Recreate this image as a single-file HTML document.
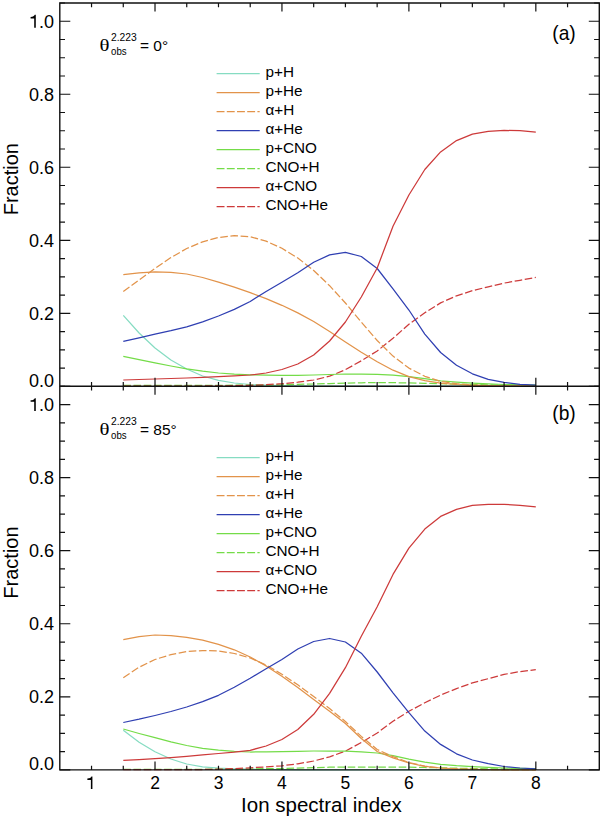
<!DOCTYPE html><html><head><meta charset="utf-8"><style>html,body{margin:0;padding:0;background:#fff;}svg{display:block;}text{font-family:"Liberation Sans",sans-serif;fill:#000;}</style></head><body>
<svg width="600" height="817" viewBox="0 0 600 817">
<rect width="600" height="817" fill="#fff"/>
<path d="M123.3,315.4 L139.1,333.0 L155.0,348.0 L170.9,360.0 L186.7,369.0 L202.6,376.0 L218.5,380.4 L234.3,383.0 L250.2,384.5 L266.1,385.2 L281.9,385.6 L297.8,385.8 L313.7,386.0 L329.6,386.0 L345.4,386.0 L361.3,386.0 L377.2,386.0 L393.0,386.0 L408.9,386.0 L424.8,386.0 L440.6,386.0 L456.5,386.0 L472.4,386.0 L488.2,386.0 L504.1,386.0 L520.0,386.0 L535.8,386.0" fill="none" stroke="#86dcc2" stroke-width="1.25" stroke-linejoin="round"/>
<path d="M123.3,385.4 L139.1,385.4 L155.0,385.4 L170.9,385.4 L186.7,385.4 L202.6,385.3 L218.5,385.3 L234.3,385.2 L250.2,385.1 L266.1,385.0 L281.9,384.8 L297.8,384.4 L313.7,384.0 L329.6,383.6 L345.4,383.2 L361.3,382.8 L377.2,382.6 L393.0,382.7 L408.9,382.9 L424.8,383.3 L440.6,383.7 L456.5,384.2 L472.4,384.6 L488.2,384.9 L504.1,385.1 L520.0,385.3 L535.8,385.4" fill="none" stroke="#74dc48" stroke-width="1.25" stroke-linejoin="round" stroke-dasharray="7.6 2.6"/>
<path d="M123.3,386.0 L139.1,386.0 L155.0,386.0 L170.9,386.0 L186.7,386.0 L202.6,386.0 L218.5,385.9 L234.3,385.7 L250.2,385.3 L266.1,384.7 L281.9,383.7 L297.8,382.2 L313.7,380.0 L329.6,376.2 L345.4,369.7 L361.3,360.8 L377.2,351.0 L393.0,338.3 L408.9,324.2 L424.8,312.8 L440.6,302.9 L456.5,295.8 L472.4,290.7 L488.2,286.8 L504.1,283.1 L520.0,280.3 L535.8,277.4" fill="none" stroke="#cd3a3a" stroke-width="1.25" stroke-linejoin="round" stroke-dasharray="7.6 2.6"/>
<path d="M123.3,356.4 L139.1,359.7 L155.0,362.9 L170.9,366.0 L186.7,368.8 L202.6,371.2 L218.5,373.0 L234.3,374.1 L250.2,374.8 L266.1,375.2 L281.9,375.4 L297.8,375.3 L313.7,375.0 L329.6,374.5 L345.4,374.0 L361.3,374.0 L377.2,374.3 L393.0,375.2 L408.9,376.6 L424.8,378.7 L440.6,380.8 L456.5,382.1 L472.4,383.1 L488.2,383.9 L504.1,384.5 L520.0,384.8 L535.8,385.0" fill="none" stroke="#74dc48" stroke-width="1.25" stroke-linejoin="round"/>
<path d="M123.3,274.7 L139.1,272.8 L155.0,271.8 L170.9,272.3 L186.7,274.0 L202.6,277.5 L218.5,282.2 L234.3,287.2 L250.2,292.7 L266.1,298.7 L281.9,305.3 L297.8,312.9 L313.7,321.5 L329.6,331.5 L345.4,342.0 L361.3,352.3 L377.2,361.8 L393.0,370.2 L408.9,376.6 L424.8,380.6 L440.6,383.1 L456.5,384.5 L472.4,385.4 L488.2,385.7 L504.1,385.9 L520.0,386.0 L535.8,386.0" fill="none" stroke="#e2934a" stroke-width="1.25" stroke-linejoin="round"/>
<path d="M123.3,291.5 L139.1,280.0 L155.0,268.5 L170.9,257.6 L186.7,248.5 L202.6,241.8 L218.5,237.5 L234.3,235.7 L250.2,236.7 L266.1,241.1 L281.9,248.3 L297.8,258.0 L313.7,270.5 L329.6,285.7 L345.4,303.0 L361.3,322.1 L377.2,340.5 L393.0,356.1 L408.9,368.1 L424.8,376.3 L440.6,381.4 L456.5,383.7 L472.4,385.0 L488.2,385.5 L504.1,385.8 L520.0,385.9 L535.8,386.0" fill="none" stroke="#e2934a" stroke-width="1.25" stroke-linejoin="round" stroke-dasharray="7.6 2.6"/>
<path d="M123.3,341.3 L139.1,337.8 L155.0,334.2 L170.9,330.7 L186.7,326.8 L202.6,321.9 L218.5,316.0 L234.3,309.4 L250.2,301.5 L266.1,291.5 L281.9,282.2 L297.8,272.8 L313.7,262.3 L329.6,254.9 L345.4,252.3 L361.3,256.5 L377.2,268.5 L393.0,288.8 L408.9,310.0 L424.8,334.1 L440.6,352.5 L456.5,365.3 L472.4,373.8 L488.2,379.4 L504.1,382.3 L520.0,384.3 L535.8,385.1" fill="none" stroke="#2f3fb2" stroke-width="1.25" stroke-linejoin="round"/>
<path d="M123.3,380.0 L139.1,379.5 L155.0,379.0 L170.9,378.5 L186.7,378.0 L202.6,377.4 L218.5,376.7 L234.3,375.9 L250.2,375.0 L266.1,373.0 L281.9,369.5 L297.8,364.0 L313.7,355.0 L329.6,341.0 L345.4,322.0 L361.3,297.0 L377.2,268.0 L393.0,226.2 L408.9,195.0 L424.8,169.5 L440.6,151.9 L456.5,140.6 L472.4,134.1 L488.2,131.3 L504.1,130.4 L520.0,130.7 L535.8,132.1" fill="none" stroke="#cd3a3a" stroke-width="1.25" stroke-linejoin="round"/>
<path d="M59.8,386.30 h10.5 M599.3,386.30 h-10.5 M59.8,368.05 h5.2 M599.3,368.05 h-5.2 M59.8,349.80 h5.2 M599.3,349.80 h-5.2 M59.8,331.54 h5.2 M599.3,331.54 h-5.2 M59.8,313.29 h10.5 M599.3,313.29 h-10.5 M59.8,295.04 h5.2 M599.3,295.04 h-5.2 M59.8,276.79 h5.2 M599.3,276.79 h-5.2 M59.8,258.53 h5.2 M599.3,258.53 h-5.2 M59.8,240.28 h10.5 M599.3,240.28 h-10.5 M59.8,222.03 h5.2 M599.3,222.03 h-5.2 M59.8,203.78 h5.2 M599.3,203.78 h-5.2 M59.8,185.52 h5.2 M599.3,185.52 h-5.2 M59.8,167.27 h10.5 M599.3,167.27 h-10.5 M59.8,149.02 h5.2 M599.3,149.02 h-5.2 M59.8,130.77 h5.2 M599.3,130.77 h-5.2 M59.8,112.51 h5.2 M599.3,112.51 h-5.2 M59.8,94.26 h10.5 M599.3,94.26 h-10.5 M59.8,76.01 h5.2 M599.3,76.01 h-5.2 M59.8,57.76 h5.2 M599.3,57.76 h-5.2 M59.8,39.50 h5.2 M599.3,39.50 h-5.2 M59.8,21.25 h10.5 M599.3,21.25 h-10.5 M59.8,3.00 h5.2 M599.3,3.00 h-5.2 M91.54,386.3 v-4.2 M91.54,3.0 v4.2 M123.27,386.3 v-4.2 M123.27,3.0 v4.2 M155.01,386.3 v-8.5 M155.01,3.0 v8.5 M186.74,386.3 v-4.2 M186.74,3.0 v4.2 M218.48,386.3 v-4.2 M218.48,3.0 v4.2 M250.21,386.3 v-4.2 M250.21,3.0 v4.2 M281.95,386.3 v-8.5 M281.95,3.0 v8.5 M313.68,386.3 v-4.2 M313.68,3.0 v4.2 M345.42,386.3 v-4.2 M345.42,3.0 v4.2 M377.15,386.3 v-4.2 M377.15,3.0 v4.2 M408.89,386.3 v-8.5 M408.89,3.0 v8.5 M440.62,386.3 v-4.2 M440.62,3.0 v4.2 M472.36,386.3 v-4.2 M472.36,3.0 v4.2 M504.09,386.3 v-4.2 M504.09,3.0 v4.2 M535.83,386.3 v-8.5 M535.83,3.0 v8.5 M567.56,386.3 v-4.2 M567.56,3.0 v4.2" fill="none" stroke="#111" stroke-width="1.2"/>
<text x="54" y="386.8" font-size="18" text-anchor="end">0.0</text>
<text x="54" y="319.7" font-size="18" text-anchor="end">0.2</text>
<text x="54" y="246.7" font-size="18" text-anchor="end">0.4</text>
<text x="54" y="173.7" font-size="18" text-anchor="end">0.6</text>
<text x="54" y="100.7" font-size="18" text-anchor="end">0.8</text>
<text x="54" y="27.7" font-size="18" text-anchor="end">.0</text>
<path d="M35.79,27.65 V14.87 H34.78 C34.37,16.13 33.02,16.85 30.59,16.94 V18.47 H34.21 V27.65 Z" fill="#000"/>
<text transform="translate(18.2,179.2) rotate(-90)" font-size="20" text-anchor="middle">Fraction</text>
<text transform="translate(99.6,50.8) scale(1.3,1)" font-size="16" style="font-family:'Liberation Serif',serif">&#952;</text>
<text x="111.0" y="40.9" font-size="10" textLength="25.8" lengthAdjust="spacingAndGlyphs">2.223</text>
<text x="111.0" y="55.0" font-size="10.2" textLength="15.6" lengthAdjust="spacingAndGlyphs">obs</text>
<text x="140" y="50.8" font-size="15.5">= 0&#176;</text>
<text transform="translate(552.3,40.3) scale(1,1.07)" font-size="19.2">(a)</text>
<path d="M216.6,73.7 H259.7" stroke="#86dcc2" stroke-width="1.25"/>
<text x="265.5" y="76.9" font-size="15.3">p+H</text>
<path d="M216.6,92.7 H259.7" stroke="#e2934a" stroke-width="1.25"/>
<text x="265.5" y="95.9" font-size="15.3">p+He</text>
<path d="M216.6,111.7 H259.7" stroke="#e2934a" stroke-width="1.25" stroke-dasharray="7.9 2.3"/>
<text x="265.5" y="114.9" font-size="15.3">&#945;+H</text>
<path d="M216.6,130.7 H259.7" stroke="#2f3fb2" stroke-width="1.25"/>
<text x="265.5" y="133.9" font-size="15.3">&#945;+He</text>
<path d="M216.6,149.7 H259.7" stroke="#74dc48" stroke-width="1.25"/>
<text x="265.5" y="152.9" font-size="15.3">p+CNO</text>
<path d="M216.6,168.7 H259.7" stroke="#74dc48" stroke-width="1.25" stroke-dasharray="7.9 2.3"/>
<text x="265.5" y="171.9" font-size="15.3">CNO+H</text>
<path d="M216.6,187.7 H259.7" stroke="#cd3a3a" stroke-width="1.25"/>
<text x="265.5" y="190.9" font-size="15.3">&#945;+CNO</text>
<path d="M216.6,206.7 H259.7" stroke="#cd3a3a" stroke-width="1.25" stroke-dasharray="7.9 2.3"/>
<text x="265.5" y="209.9" font-size="15.3">CNO+He</text>
<path d="M123.3,730.2 L139.1,742.3 L155.0,751.7 L170.9,759.0 L186.7,764.0 L202.6,766.8 L218.5,768.2 L234.3,768.8 L250.2,769.2 L266.1,769.5 L281.9,769.7 L297.8,769.8 L313.7,769.9 L329.6,769.9 L345.4,769.9 L361.3,769.9 L377.2,769.9 L393.0,769.9 L408.9,769.9 L424.8,769.9 L440.6,769.9 L456.5,769.9 L472.4,769.9 L488.2,769.9 L504.1,769.9 L520.0,769.9 L535.8,769.9" fill="none" stroke="#86dcc2" stroke-width="1.25" stroke-linejoin="round"/>
<path d="M123.3,769.3 L139.1,769.3 L155.0,769.3 L170.9,769.3 L186.7,769.3 L202.6,769.3 L218.5,769.2 L234.3,769.1 L250.2,769.0 L266.1,768.7 L281.9,768.5 L297.8,768.1 L313.7,767.6 L329.6,767.2 L345.4,767.0 L361.3,767.0 L377.2,767.0 L393.0,767.1 L408.9,767.2 L424.8,767.5 L440.6,767.8 L456.5,768.2 L472.4,768.5 L488.2,768.8 L504.1,769.0 L520.0,769.2 L535.8,769.3" fill="none" stroke="#74dc48" stroke-width="1.25" stroke-linejoin="round" stroke-dasharray="7.6 2.6"/>
<path d="M123.3,769.6 L139.1,769.6 L155.0,769.6 L170.9,769.6 L186.7,769.6 L202.6,769.5 L218.5,769.2 L234.3,768.6 L250.2,767.8 L266.1,766.9 L281.9,765.8 L297.8,763.8 L313.7,761.0 L329.6,756.8 L345.4,751.2 L361.3,742.5 L377.2,733.0 L393.0,721.2 L408.9,711.3 L424.8,702.8 L440.6,695.1 L456.5,688.6 L472.4,682.9 L488.2,678.7 L504.1,674.4 L520.0,671.6 L535.8,669.6" fill="none" stroke="#cd3a3a" stroke-width="1.25" stroke-linejoin="round" stroke-dasharray="7.6 2.6"/>
<path d="M123.3,729.0 L139.1,733.5 L155.0,737.7 L170.9,741.9 L186.7,745.5 L202.6,748.3 L218.5,750.2 L234.3,751.4 L250.2,752.0 L266.1,751.9 L281.9,751.7 L297.8,751.3 L313.7,751.0 L329.6,751.0 L345.4,751.2 L361.3,751.8 L377.2,753.0 L393.0,755.7 L408.9,759.2 L424.8,762.2 L440.6,764.3 L456.5,765.7 L472.4,766.6 L488.2,767.4 L504.1,768.0 L520.0,768.4 L535.8,768.6" fill="none" stroke="#74dc48" stroke-width="1.25" stroke-linejoin="round"/>
<path d="M123.3,639.7 L139.1,636.6 L155.0,635.0 L170.9,635.6 L186.7,637.3 L202.6,640.2 L218.5,644.3 L234.3,649.8 L250.2,657.0 L266.1,665.9 L281.9,676.3 L297.8,687.6 L313.7,699.5 L329.6,711.2 L345.4,723.5 L361.3,738.5 L377.2,751.5 L393.0,757.8 L408.9,763.0 L424.8,766.3 L440.6,768.0 L456.5,768.9 L472.4,769.4 L488.2,769.7 L504.1,769.8 L520.0,769.9 L535.8,769.9" fill="none" stroke="#e2934a" stroke-width="1.25" stroke-linejoin="round"/>
<path d="M123.3,677.7 L139.1,667.2 L155.0,659.5 L170.9,654.6 L186.7,651.6 L202.6,650.6 L218.5,650.9 L234.3,653.5 L250.2,658.0 L266.1,665.0 L281.9,674.3 L297.8,684.8 L313.7,696.5 L329.6,708.6 L345.4,721.5 L361.3,736.4 L377.2,749.5 L393.0,756.6 L408.9,762.5 L424.8,766.2 L440.6,768.0 L456.5,768.9 L472.4,769.4 L488.2,769.6 L504.1,769.8 L520.0,769.9 L535.8,769.9" fill="none" stroke="#e2934a" stroke-width="1.25" stroke-linejoin="round" stroke-dasharray="7.6 2.6"/>
<path d="M123.3,722.5 L139.1,719.2 L155.0,715.5 L170.9,711.5 L186.7,707.0 L202.6,701.7 L218.5,695.3 L234.3,687.3 L250.2,678.3 L266.1,668.8 L281.9,659.5 L297.8,649.0 L313.7,641.5 L329.6,638.5 L345.4,642.0 L361.3,653.2 L377.2,672.0 L393.0,692.8 L408.9,712.7 L424.8,731.1 L440.6,744.4 L456.5,753.8 L472.4,760.0 L488.2,763.7 L504.1,766.5 L520.0,768.0 L535.8,768.8" fill="none" stroke="#2f3fb2" stroke-width="1.25" stroke-linejoin="round"/>
<path d="M123.3,760.3 L139.1,759.6 L155.0,758.7 L170.9,757.6 L186.7,756.3 L202.6,754.9 L218.5,753.5 L234.3,752.1 L250.2,750.3 L266.1,746.0 L281.9,739.5 L297.8,729.5 L313.7,714.3 L329.6,693.3 L345.4,667.7 L361.3,636.3 L377.2,606.7 L393.0,574.4 L408.9,548.1 L424.8,529.1 L440.6,516.4 L456.5,509.4 L472.4,505.3 L488.2,504.4 L504.1,504.4 L520.0,505.3 L535.8,506.9" fill="none" stroke="#cd3a3a" stroke-width="1.25" stroke-linejoin="round"/>
<path d="M59.8,769.90 h10.5 M599.3,769.90 h-10.5 M59.8,751.63 h5.2 M599.3,751.63 h-5.2 M59.8,733.37 h5.2 M599.3,733.37 h-5.2 M59.8,715.10 h5.2 M599.3,715.10 h-5.2 M59.8,696.83 h10.5 M599.3,696.83 h-10.5 M59.8,678.57 h5.2 M599.3,678.57 h-5.2 M59.8,660.30 h5.2 M599.3,660.30 h-5.2 M59.8,642.03 h5.2 M599.3,642.03 h-5.2 M59.8,623.77 h10.5 M599.3,623.77 h-10.5 M59.8,605.50 h5.2 M599.3,605.50 h-5.2 M59.8,587.23 h5.2 M599.3,587.23 h-5.2 M59.8,568.97 h5.2 M599.3,568.97 h-5.2 M59.8,550.70 h10.5 M599.3,550.70 h-10.5 M59.8,532.43 h5.2 M599.3,532.43 h-5.2 M59.8,514.17 h5.2 M599.3,514.17 h-5.2 M59.8,495.90 h5.2 M599.3,495.90 h-5.2 M59.8,477.63 h10.5 M599.3,477.63 h-10.5 M59.8,459.37 h5.2 M599.3,459.37 h-5.2 M59.8,441.10 h5.2 M599.3,441.10 h-5.2 M59.8,422.83 h5.2 M599.3,422.83 h-5.2 M59.8,404.57 h10.5 M599.3,404.57 h-10.5 M59.8,386.30 h5.2 M599.3,386.30 h-5.2 M91.54,769.9 v-4.2 M91.54,386.3 v4.2 M123.27,769.9 v-4.2 M123.27,386.3 v4.2 M155.01,769.9 v-8.5 M155.01,386.3 v8.5 M186.74,769.9 v-4.2 M186.74,386.3 v4.2 M218.48,769.9 v-4.2 M218.48,386.3 v4.2 M250.21,769.9 v-4.2 M250.21,386.3 v4.2 M281.95,769.9 v-8.5 M281.95,386.3 v8.5 M313.68,769.9 v-4.2 M313.68,386.3 v4.2 M345.42,769.9 v-4.2 M345.42,386.3 v4.2 M377.15,769.9 v-4.2 M377.15,386.3 v4.2 M408.89,769.9 v-8.5 M408.89,386.3 v8.5 M440.62,769.9 v-4.2 M440.62,386.3 v4.2 M472.36,769.9 v-4.2 M472.36,386.3 v4.2 M504.09,769.9 v-4.2 M504.09,386.3 v4.2 M535.83,769.9 v-8.5 M535.83,386.3 v8.5 M567.56,769.9 v-4.2 M567.56,386.3 v4.2" fill="none" stroke="#111" stroke-width="1.2"/>
<text x="54" y="770.4" font-size="18" text-anchor="end">0.0</text>
<text x="54" y="703.2" font-size="18" text-anchor="end">0.2</text>
<text x="54" y="630.2" font-size="18" text-anchor="end">0.4</text>
<text x="54" y="557.1" font-size="18" text-anchor="end">0.6</text>
<text x="54" y="484.0" font-size="18" text-anchor="end">0.8</text>
<text x="54" y="411.0" font-size="18" text-anchor="end">.0</text>
<path d="M35.79,410.97 V398.19 H34.78 C34.37,399.45 33.02,400.17 30.59,400.26 V401.79 H34.21 V410.97 Z" fill="#000"/>
<text transform="translate(18.2,562.5) rotate(-90)" font-size="20" text-anchor="middle">Fraction</text>
<text transform="translate(99.6,434.8) scale(1.3,1)" font-size="16" style="font-family:'Liberation Serif',serif">&#952;</text>
<text x="111.0" y="424.9" font-size="10" textLength="25.8" lengthAdjust="spacingAndGlyphs">2.223</text>
<text x="111.0" y="439.0" font-size="10.2" textLength="15.6" lengthAdjust="spacingAndGlyphs">obs</text>
<text x="140" y="434.8" font-size="15.5">= 85&#176;</text>
<text transform="translate(552.3,420.3) scale(1,1.07)" font-size="19.2">(b)</text>
<path d="M216.6,457.7 H259.7" stroke="#86dcc2" stroke-width="1.25"/>
<text x="265.5" y="460.9" font-size="15.3">p+H</text>
<path d="M216.6,476.7 H259.7" stroke="#e2934a" stroke-width="1.25"/>
<text x="265.5" y="479.9" font-size="15.3">p+He</text>
<path d="M216.6,495.7 H259.7" stroke="#e2934a" stroke-width="1.25" stroke-dasharray="7.9 2.3"/>
<text x="265.5" y="498.9" font-size="15.3">&#945;+H</text>
<path d="M216.6,514.7 H259.7" stroke="#2f3fb2" stroke-width="1.25"/>
<text x="265.5" y="517.9" font-size="15.3">&#945;+He</text>
<path d="M216.6,533.7 H259.7" stroke="#74dc48" stroke-width="1.25"/>
<text x="265.5" y="536.9" font-size="15.3">p+CNO</text>
<path d="M216.6,552.7 H259.7" stroke="#74dc48" stroke-width="1.25" stroke-dasharray="7.9 2.3"/>
<text x="265.5" y="555.9" font-size="15.3">CNO+H</text>
<path d="M216.6,571.7 H259.7" stroke="#cd3a3a" stroke-width="1.25"/>
<text x="265.5" y="574.9" font-size="15.3">&#945;+CNO</text>
<path d="M216.6,590.7 H259.7" stroke="#cd3a3a" stroke-width="1.25" stroke-dasharray="7.9 2.3"/>
<text x="265.5" y="593.9" font-size="15.3">CNO+He</text>
<path d="M59.8,3.0 H599.3 V769.9 H59.8 Z M59.8,386.3 H599.3" fill="none" stroke="#111" stroke-width="1.4"/>
<path d="M92.42,789.00 V776.58 H91.44 C91.04,777.80 89.73,778.50 87.36,778.59 V780.08 H90.88 V789.00 Z" fill="#000"/>
<text x="155.0" y="789.0" font-size="17.5" text-anchor="middle">2</text>
<text x="218.5" y="789.0" font-size="17.5" text-anchor="middle">3</text>
<text x="281.9" y="789.0" font-size="17.5" text-anchor="middle">4</text>
<text x="345.4" y="789.0" font-size="17.5" text-anchor="middle">5</text>
<text x="408.9" y="789.0" font-size="17.5" text-anchor="middle">6</text>
<text x="472.4" y="789.0" font-size="17.5" text-anchor="middle">7</text>
<text x="535.8" y="789.0" font-size="17.5" text-anchor="middle">8</text>
<text x="321.4" y="812" font-size="20.5" text-anchor="middle">Ion spectral index</text>
</svg></body></html>
